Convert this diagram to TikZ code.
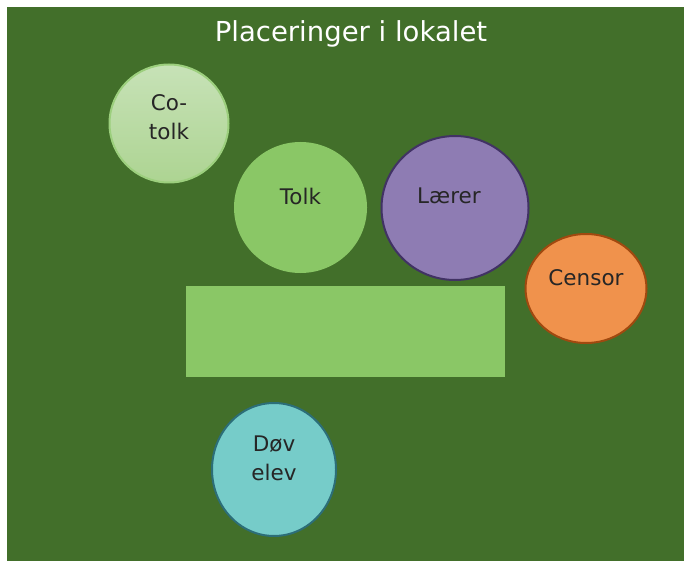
\documentclass[tikz,border=0pt]{standalone}
\usepackage{fontspec}
\setmainfont{DejaVu Sans}
\usetikzlibrary{shapes.geometric}
\definecolor{bggreen}{HTML}{426F2A}
\definecolor{lightgr}{HTML}{8AC766}
\definecolor{textgray}{HTML}{262626}
\begin{document}
\begin{tikzpicture}[x=1pt,y=-1pt,
    seat/.style={ellipse,draw,line width=2pt,inner sep=0pt},
    lbl/.style={text=textgray,font=\fontsize{21.5}{29}\selectfont,align=center}]
        	\useasboundingbox (0,0) rectangle (684,561);
        	\fill[bggreen] (7,7) rectangle (684,561);
            \node[text=white,font=\fontsize{27.5}{33}\selectfont] (title) at (351,34) {Placeringer i lokalet};
            \fill[lightgr] (186,286) rectangle (505,377);
            \node[seat,draw=lightgr!85!white,top color={rgb,255:red,199;green,226;blue,183},bottom color={rgb,255:red,173;green,212;blue,146},minimum width=119pt,minimum height=118pt] (cotolk) at (169,123.5) {};
            \node[seat,draw=lightgr,fill=lightgr,minimum width=131pt,minimum height=129pt] (tolk) at (300.5,207.5) {};
            \node[seat,draw={rgb,255:red,65;green,50;blue,100},fill={rgb,255:red,142;green,124;blue,179},minimum width=147pt,minimum height=144pt] (laerer) at (455,208) {};
            \node[seat,draw={rgb,255:red,160;green,73;blue,15},fill={rgb,255:red,240;green,146;blue,76},minimum width=121pt,minimum height=109pt] (censor) at (586,288.5) {};
            \node[seat,draw={rgb,255:red,44;green,110;blue,120},fill={rgb,255:red,118;green,204;blue,201},minimum width=124pt,minimum height=133pt] (dovelev) at (274,469.5) {};
            \node[lbl] (cotolktxt) at ([yshift=6pt]cotolk.center) {Co-\\tolk};
            \node[lbl] (tolktxt) at ([yshift=11pt]tolk.center) {Tolk};
            \node[lbl] (laerertxt) at ([xshift=-6pt,yshift=12pt]laerer.center) {Lærer};
            \node[lbl] (censortxt) at ([yshift=11pt]censor.center) {Censor};
            \node[lbl] (dovelevtxt) at ([yshift=11pt]dovelev.center) {Døv\\elev};
        \end{tikzpicture}
\end{document}
